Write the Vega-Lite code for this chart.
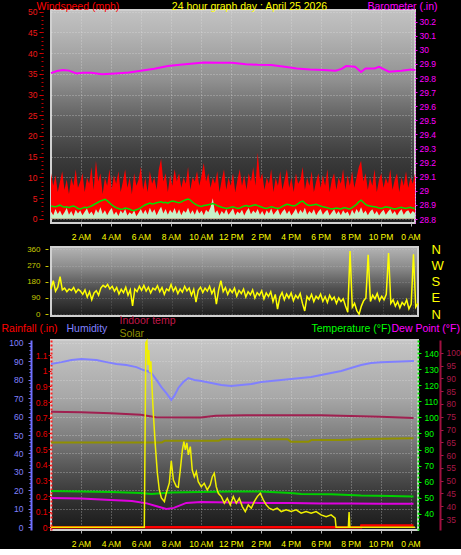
{
"$schema":"https://vega.github.io/schema/vega-lite/v6.json",
"background":"#000000",
"padding":{"left":0,"top":0,"right":0,"bottom":0},
"spacing":24,
"bounds":"flush",
"config":{
 "font":"Liberation Sans",
 "view":{"stroke":"#d0d0d0","strokeWidth":2},
 "axis":{"labelFont":"Liberation Sans","titleFont":"Liberation Sans","titleFontWeight":"normal","labelFontSize":8.5,"titleFontSize":10.5,"gridColor":"#e8e8e8","gridDash":[1,2],"gridOpacity":0.55,"domain":false,"tickSize":3,"labelFlush":false,"labelOverlap":false,"grid":false}
},
"datasets":{
"wind":[
{"h":0,"g":11,"a":3.1,"w":1.8},{"h":0.15,"g":8,"a":3.0,"w":0.9},{"h":0.3,"g":10.5,"a":2.9,"w":2.4},{"h":0.45,"g":6.5,"a":3.1,"w":1.2},{"h":0.6,"g":9,"a":3.3,"w":2.0},{"h":0.75,"g":11.5,"a":3.0,"w":0.8},{"h":0.9,"g":7,"a":2.8,"w":1.6},{"h":1.05,"g":9.5,"a":2.9,"w":2.6},{"h":1.2,"g":6,"a":2.7,"w":1.0},{"h":1.35,"g":10,"a":3.0,"w":1.9},
{"h":1.5,"g":8,"a":3.1,"w":0.7},{"h":1.65,"g":12,"a":2.9,"w":2.2},{"h":1.8,"g":7.5,"a":2.5,"w":1.3},{"h":1.95,"g":9,"a":2.4,"w":2.0},{"h":2.1,"g":11,"a":2.6,"w":0.9},{"h":2.25,"g":6.5,"a":2.8,"w":1.7},{"h":2.4,"g":10,"a":2.7,"w":2.5},{"h":2.55,"g":8.5,"a":2.9,"w":1.1},{"h":2.7,"g":12.5,"a":3.1,"w":1.8},{"h":2.85,"g":7,"a":3.4,"w":0.8},
{"h":3.0,"g":14,"a":3.7,"w":2.3},{"h":3.15,"g":9,"a":4.0,"w":1.4},{"h":3.3,"g":11,"a":4.3,"w":2.8},{"h":3.45,"g":6,"a":4.5,"w":1.2},{"h":3.6,"g":10,"a":4.7,"w":2.1},{"h":3.75,"g":8,"a":4.4,"w":0.9},{"h":3.9,"g":12,"a":3.9,"w":1.9},{"h":4.05,"g":7,"a":3.4,"w":2.6},{"h":4.2,"g":10.5,"a":3.0,"w":1.0},{"h":4.35,"g":8.5,"a":2.7,"w":1.8},
{"h":4.5,"g":11.5,"a":2.5,"w":0.7},{"h":4.65,"g":6.5,"a":2.3,"w":2.0},{"h":4.8,"g":9,"a":2.4,"w":1.3},{"h":4.95,"g":12,"a":2.6,"w":2.4},{"h":5.1,"g":7.5,"a":2.5,"w":0.8},{"h":5.25,"g":10,"a":2.3,"w":1.6},{"h":5.4,"g":6,"a":2.1,"w":1.1},{"h":5.55,"g":11,"a":2.0,"w":2.0},{"h":5.7,"g":8,"a":2.2,"w":0.6},{"h":5.85,"g":9.5,"a":2.4,"w":1.5},
{"h":6.0,"g":12.5,"a":2.7,"w":2.4},{"h":6.15,"g":7,"a":3.1,"w":1.2},{"h":6.3,"g":10,"a":3.4,"w":2.2},{"h":6.45,"g":6.5,"a":3.6,"w":1.0},{"h":6.6,"g":11.5,"a":3.8,"w":2.7},{"h":6.75,"g":8.5,"a":3.6,"w":1.5},{"h":6.9,"g":10,"a":3.7,"w":2.3},{"h":7.05,"g":7,"a":3.9,"w":0.9},{"h":7.2,"g":12,"a":4.0,"w":2.0},{"h":7.35,"g":14.5,"a":4.1,"w":2.9},
{"h":7.5,"g":9,"a":3.9,"w":1.3},{"h":7.65,"g":11,"a":4.0,"w":2.4},{"h":7.8,"g":6.5,"a":3.8,"w":1.0},{"h":7.95,"g":10.5,"a":4.1,"w":2.2},{"h":8.1,"g":8,"a":4.3,"w":1.4},{"h":8.25,"g":12,"a":4.2,"w":2.6},{"h":8.4,"g":9,"a":4.0,"w":1.1},{"h":8.55,"g":11,"a":3.9,"w":2.3},{"h":8.7,"g":7.5,"a":4.1,"w":0.9},{"h":8.85,"g":10,"a":4.4,"w":2.0},
{"h":9.0,"g":8.5,"a":4.6,"w":1.5},{"h":9.15,"g":12.5,"a":4.8,"w":2.7},{"h":9.3,"g":7,"a":4.5,"w":1.2},{"h":9.45,"g":10,"a":4.0,"w":2.1},{"h":9.6,"g":9,"a":3.6,"w":1.0},{"h":9.75,"g":11.5,"a":3.3,"w":2.4},{"h":9.9,"g":8,"a":3.1,"w":1.3},{"h":10.05,"g":10.5,"a":3.0,"w":2.0},{"h":10.2,"g":13.5,"a":3.2,"w":0.9},{"h":10.35,"g":9,"a":3.3,"w":2.2},
{"h":10.5,"g":11,"a":3.4,"w":1.6},{"h":10.65,"g":7.5,"a":3.5,"w":2.8},{"h":10.8,"g":10,"a":3.7,"w":5.0},{"h":10.95,"g":8.5,"a":3.5,"w":1.4},{"h":11.1,"g":11.5,"a":3.2,"w":2.1},{"h":11.25,"g":6.5,"a":3.0,"w":0.8},{"h":11.4,"g":9.5,"a":2.8,"w":1.9},{"h":11.55,"g":12,"a":2.7,"w":1.2},{"h":11.7,"g":7,"a":2.5,"w":2.3},{"h":11.85,"g":10,"a":2.6,"w":1.0},
{"h":12.0,"g":8,"a":2.8,"w":1.7},{"h":12.15,"g":11,"a":2.9,"w":2.5},{"h":12.3,"g":6.5,"a":2.7,"w":0.9},{"h":12.45,"g":9.5,"a":2.5,"w":1.8},{"h":12.6,"g":12,"a":2.6,"w":1.3},{"h":12.75,"g":8,"a":2.9,"w":2.2},{"h":12.9,"g":10.5,"a":3.1,"w":0.8},{"h":13.05,"g":7,"a":3.2,"w":1.9},{"h":13.2,"g":11,"a":3.0,"w":2.6},{"h":13.35,"g":9,"a":3.1,"w":1.1},
{"h":13.5,"g":12.5,"a":3.3,"w":2.0},{"h":13.65,"g":8,"a":3.4,"w":1.4},{"h":13.8,"g":16,"a":3.2,"w":2.4},{"h":13.95,"g":9.5,"a":3.0,"w":1.0},{"h":14.1,"g":11,"a":2.8,"w":1.9},{"h":14.25,"g":7,"a":2.6,"w":0.8},{"h":14.4,"g":10,"a":2.5,"w":2.1},{"h":14.55,"g":8.5,"a":2.7,"w":1.3},{"h":14.7,"g":12,"a":2.9,"w":2.5},{"h":14.85,"g":6.5,"a":2.8,"w":1.0},
{"h":15.0,"g":10,"a":2.6,"w":1.7},{"h":15.15,"g":8,"a":2.5,"w":2.3},{"h":15.3,"g":11.5,"a":2.7,"w":0.9},{"h":15.45,"g":7,"a":3.0,"w":1.8},{"h":15.6,"g":9.5,"a":3.3,"w":2.4},{"h":15.75,"g":12,"a":3.5,"w":1.2},{"h":15.9,"g":7.5,"a":3.4,"w":2.0},{"h":16.05,"g":10,"a":3.2,"w":0.8},{"h":16.2,"g":6.5,"a":3.1,"w":1.6},{"h":16.35,"g":11,"a":3.3,"w":2.5},
{"h":16.5,"g":8.5,"a":3.7,"w":1.1},{"h":16.65,"g":9.5,"a":4.1,"w":2.2},{"h":16.8,"g":12.5,"a":4.3,"w":1.4},{"h":16.95,"g":7,"a":3.8,"w":2.7},{"h":17.1,"g":10,"a":3.4,"w":1.0},{"h":17.25,"g":8,"a":3.2,"w":1.9},{"h":17.4,"g":11.5,"a":3.3,"w":1.3},{"h":17.55,"g":6.5,"a":3.4,"w":2.3},{"h":17.7,"g":9,"a":3.5,"w":0.9},{"h":17.85,"g":11,"a":3.3,"w":1.8},
{"h":18.0,"g":7.5,"a":3.1,"w":2.4},{"h":18.15,"g":10.5,"a":2.9,"w":1.0},{"h":18.3,"g":8,"a":2.8,"w":1.7},{"h":18.45,"g":12,"a":2.7,"w":2.2},{"h":18.6,"g":6.5,"a":2.5,"w":0.8},{"h":18.75,"g":9.5,"a":2.4,"w":1.6},{"h":18.9,"g":11,"a":2.5,"w":2.3},{"h":19.05,"g":7,"a":2.6,"w":1.1},{"h":19.2,"g":10,"a":2.5,"w":1.9},{"h":19.35,"g":8.5,"a":2.4,"w":0.9},
{"h":19.5,"g":12,"a":2.6,"w":2.1},{"h":19.65,"g":7,"a":2.7,"w":1.3},{"h":19.8,"g":10.5,"a":2.5,"w":1.8},{"h":19.95,"g":8,"a":2.4,"w":0.7},{"h":20.1,"g":11.5,"a":2.7,"w":2.2},{"h":20.25,"g":7.5,"a":3.1,"w":1.2},{"h":20.4,"g":10,"a":3.5,"w":2.4},{"h":20.55,"g":12.5,"a":4.1,"w":1.5},{"h":20.7,"g":14,"a":4.5,"w":2.8},{"h":20.85,"g":9,"a":4.0,"w":1.3},
{"h":21.0,"g":11,"a":3.5,"w":2.0},{"h":21.15,"g":7,"a":3.2,"w":0.9},{"h":21.3,"g":10,"a":3.1,"w":1.8},{"h":21.45,"g":8,"a":3.0,"w":2.3},{"h":21.6,"g":12,"a":2.9,"w":1.1},{"h":21.75,"g":6.5,"a":2.8,"w":1.9},{"h":21.9,"g":9.5,"a":2.6,"w":0.8},{"h":22.05,"g":11,"a":2.5,"w":1.6},{"h":22.2,"g":7.5,"a":2.7,"w":2.2},{"h":22.35,"g":10,"a":2.9,"w":1.0},
{"h":22.5,"g":8.5,"a":2.8,"w":1.8},{"h":22.65,"g":12,"a":2.7,"w":2.4},{"h":22.8,"g":7,"a":2.5,"w":1.2},{"h":22.95,"g":9.5,"a":2.4,"w":1.9},{"h":23.1,"g":11,"a":2.5,"w":0.8},{"h":23.25,"g":6.5,"a":2.7,"w":1.7},{"h":23.4,"g":10,"a":2.8,"w":2.3},{"h":23.55,"g":8,"a":2.6,"w":1.0},{"h":23.7,"g":11.5,"a":2.5,"w":1.8},{"h":23.85,"g":7.5,"a":2.7,"w":2.1},
{"h":24.0,"g":10,"a":2.8,"w":1.2},{"h":24.15,"g":8.5,"a":2.6,"w":1.9},{"h":24.3,"g":11,"a":2.5,"w":1.4}
],
"baro":[
{"h":0,"p":29.835},{"h":0.4,"p":29.85},{"h":0.8,"p":29.857},{"h":1.2,"p":29.853},{"h":1.7,"p":29.833},{"h":2.1,"p":29.838},{"h":2.7,"p":29.838},{"h":3.4,"p":29.828},{"h":4.3,"p":29.833},{"h":5.2,"p":29.84},{"h":6.0,"p":29.852},{"h":6.9,"p":29.866},{"h":7.8,"p":29.885},{"h":8.6,"p":29.894},{"h":9.5,"p":29.904},{"h":10.2,"p":29.911},{"h":11.2,"p":29.909},{"h":12.1,"p":29.909},{"h":13.0,"p":29.899},{"h":13.8,"p":29.894},{"h":14.7,"p":29.892},{"h":15.6,"p":29.88},{"h":16.4,"p":29.868},{"h":17.3,"p":29.861},{"h":18.2,"p":29.857},{"h":19.0,"p":29.852},{"h":19.4,"p":29.865},{"h":19.7,"p":29.885},{"h":20.3,"p":29.88},{"h":20.7,"p":29.843},{"h":21.0,"p":29.868},{"h":21.6,"p":29.868},{"h":21.9,"p":29.88},{"h":22.55,"p":29.845},{"h":23.4,"p":29.852},{"h":24.05,"p":29.861},{"h":24.3,"p":29.857}
],
"dir":[
{"h":0,"d":140},{"h":0.15,"d":186},{"h":0.3,"d":128},{"h":0.45,"d":150},{"h":0.6,"d":209},{"h":0.75,"d":135},{"h":0.9,"d":145},{"h":1.05,"d":125},{"h":1.2,"d":140},{"h":1.35,"d":132},{"h":1.5,"d":148},{"h":1.65,"d":120},{"h":1.8,"d":138},{"h":1.95,"d":128},{"h":2.1,"d":110},{"h":2.25,"d":135},{"h":2.4,"d":95},{"h":2.55,"d":125},{"h":2.7,"d":80},{"h":2.85,"d":118},
{"h":3.0,"d":130},{"h":3.15,"d":105},{"h":3.3,"d":145},{"h":3.45,"d":160},{"h":3.6,"d":150},{"h":3.75,"d":165},{"h":3.9,"d":140},{"h":4.05,"d":155},{"h":4.2,"d":128},{"h":4.35,"d":148},{"h":4.5,"d":112},{"h":4.65,"d":138},{"h":4.8,"d":120},{"h":4.95,"d":150},{"h":5.1,"d":105},{"h":5.25,"d":135},{"h":5.4,"d":46},{"h":5.55,"d":140},{"h":5.7,"d":125},{"h":5.85,"d":155},
{"h":6.0,"d":132},{"h":6.15,"d":160},{"h":6.3,"d":128},{"h":6.45,"d":150},{"h":6.6,"d":118},{"h":6.75,"d":145},{"h":6.9,"d":135},{"h":7.05,"d":158},{"h":7.2,"d":125},{"h":7.35,"d":148},{"h":7.5,"d":110},{"h":7.65,"d":140},{"h":7.8,"d":130},{"h":7.95,"d":165},{"h":8.1,"d":128},{"h":8.25,"d":150},{"h":8.4,"d":115},{"h":8.55,"d":140},{"h":8.7,"d":122},{"h":8.85,"d":155},
{"h":9.0,"d":130},{"h":9.15,"d":145},{"h":9.3,"d":105},{"h":9.45,"d":138},{"h":9.6,"d":67},{"h":9.75,"d":132},{"h":9.9,"d":150},{"h":10.05,"d":120},{"h":10.2,"d":145},{"h":10.35,"d":128},{"h":10.5,"d":155},{"h":10.65,"d":115},{"h":10.8,"d":140},{"h":10.95,"d":56},{"h":11.1,"d":135},{"h":11.25,"d":186},{"h":11.4,"d":125},{"h":11.55,"d":148},{"h":11.7,"d":110},{"h":11.85,"d":138},
{"h":12.0,"d":120},{"h":12.15,"d":145},{"h":12.3,"d":100},{"h":12.45,"d":132},{"h":12.6,"d":115},{"h":12.75,"d":140},{"h":12.9,"d":95},{"h":13.05,"d":125},{"h":13.2,"d":108},{"h":13.35,"d":135},{"h":13.5,"d":90},{"h":13.65,"d":120},{"h":13.8,"d":105},{"h":13.95,"d":130},{"h":14.1,"d":85},{"h":14.25,"d":118},{"h":14.4,"d":98},{"h":14.55,"d":125},{"h":14.7,"d":70},{"h":14.85,"d":110},
{"h":15.0,"d":28},{"h":15.15,"d":95},{"h":15.3,"d":120},{"h":15.45,"d":80},{"h":15.6,"d":112},{"h":15.75,"d":90},{"h":15.9,"d":118},{"h":16.05,"d":75},{"h":16.2,"d":105},{"h":16.35,"d":88},{"h":16.5,"d":115},{"h":16.65,"d":60},{"h":16.8,"d":18},{"h":16.95,"d":98},{"h":17.1,"d":80},{"h":17.25,"d":110},{"h":17.4,"d":70},{"h":17.55,"d":100},{"h":17.7,"d":85},{"h":17.85,"d":112},
{"h":18.0,"d":72},{"h":18.15,"d":98},{"h":18.3,"d":65},{"h":18.45,"d":105},{"h":18.6,"d":80},{"h":18.75,"d":95},{"h":18.9,"d":60},{"h":19.05,"d":90},{"h":19.2,"d":70},{"h":19.35,"d":85},{"h":19.5,"d":45},{"h":19.65,"d":11},{"h":19.8,"d":350},{"h":19.95,"d":39},{"h":20.1,"d":60},{"h":20.25,"d":20},{"h":20.4,"d":0},{"h":20.55,"d":45},{"h":20.7,"d":75},{"h":20.85,"d":90},
{"h":21.0,"d":330},{"h":21.15,"d":70},{"h":21.3,"d":105},{"h":21.45,"d":85},{"h":21.6,"d":115},{"h":21.75,"d":75},{"h":21.9,"d":100},{"h":22.05,"d":80},{"h":22.2,"d":110},{"h":22.35,"d":340},{"h":22.5,"d":60},{"h":22.65,"d":80},{"h":22.8,"d":45},{"h":22.95,"d":70},{"h":23.1,"d":35},{"h":23.25,"d":65},{"h":23.4,"d":50},{"h":23.55,"d":80},{"h":23.7,"d":30},{"h":23.85,"d":55},
{"h":24.0,"d":332},{"h":24.15,"d":40},{"h":24.3,"d":60}
],
"humidity":[
{"h":0,"v":88.5},{"h":0.7,"v":89.5},{"h":1.37,"v":90.6},{"h":2.03,"v":91.2},{"h":3.03,"v":90.6},{"h":3.7,"v":89.5},{"h":4.37,"v":88.5},{"h":5.03,"v":87.9},{"h":5.7,"v":86.8},{"h":6.17,"v":85.2},{"h":6.43,"v":84.7},{"h":6.7,"v":83.6},{"h":7.03,"v":80},{"h":7.37,"v":76},{"h":7.7,"v":72.7},{"h":8.03,"v":69},{"h":8.23,"v":71.2},{"h":8.5,"v":75.5},{"h":8.83,"v":78.7},{"h":9.17,"v":80.9},{"h":9.57,"v":79.8},{"h":10.03,"v":79.3},{"h":10.7,"v":78.2},{"h":11.37,"v":77.1},{"h":12.03,"v":76.5},{"h":12.7,"v":77.1},{"h":13.37,"v":77.6},{"h":14.03,"v":78.7},{"h":14.7,"v":79.3},{"h":15.37,"v":79.8},{"h":16.03,"v":80.3},{"h":16.7,"v":80.9},{"h":17.37,"v":81.4},{"h":18.03,"v":82.5},{"h":18.7,"v":83.6},{"h":19.37,"v":84.7},{"h":20.03,"v":86.3},{"h":20.7,"v":87.9},{"h":21.37,"v":89},{"h":22.03,"v":89.5},{"h":23.37,"v":89.8},{"h":24.23,"v":90.1}
],
"indoor":[
{"h":0,"v":76.9},{"h":2,"v":76.7},{"h":4,"v":76.4},{"h":6,"v":75.8},{"h":7,"v":74.8},{"h":10,"v":74.7},{"h":11,"v":75.4},{"h":13,"v":75.6},{"h":18,"v":75.6},{"h":20,"v":75.3},{"h":22,"v":75},{"h":24.2,"v":74.5}
],
"solar":[
{"h":0,"v":46},{"h":7.4,"v":46},{"h":7.6,"v":46.9},{"h":11.2,"v":46.9},{"h":11.4,"v":47.7},{"h":15.8,"v":47.7},{"h":16.0,"v":46.4},{"h":17.2,"v":46.4},{"h":17.4,"v":47.3},{"h":19.4,"v":47.3},{"h":21,"v":47.8},{"h":24.2,"v":48.2}
],
"temp":[
{"h":0,"v":54.2},{"h":2,"v":53.8},{"h":4,"v":53.5},{"h":6,"v":52.9},{"h":6.7,"v":52.3},{"h":8,"v":53.2},{"h":10,"v":53.5},{"h":12,"v":53.8},{"h":14,"v":53.8},{"h":16,"v":52.9},{"h":16.7,"v":52.3},{"h":18.7,"v":52.1},{"h":20.7,"v":51.3},{"h":22.7,"v":51},{"h":24.2,"v":50.7}
],
"dew":[
{"h":0,"v":49.8},{"h":2,"v":49.5},{"h":4,"v":48.5},{"h":5.4,"v":47.9},{"h":6.4,"v":46.4},{"h":7,"v":44.8},{"h":7.7,"v":42.9},{"h":8.2,"v":43.6},{"h":9.03,"v":46.7},{"h":10,"v":47.3},{"h":12,"v":47},{"h":14,"v":46.7},{"h":16,"v":46.7},{"h":18,"v":46.4},{"h":20,"v":46.4},{"h":22,"v":46.2},{"h":24.2,"v":46.2}
],
"rad":[
{"h":0,"v":0},{"h":6.23,"v":0},{"h":6.33,"v":100},{"h":6.4,"v":101},{"h":6.47,"v":88},{"h":6.53,"v":96},{"h":6.6,"v":84},{"h":6.67,"v":90},{"h":6.73,"v":78},{"h":6.83,"v":61.8},{"h":6.97,"v":43.7},{"h":7.1,"v":29.4},{"h":7.23,"v":20.2},{"h":7.37,"v":15.9},{"h":7.57,"v":13.9},{"h":7.7,"v":18.6},{"h":7.9,"v":24},{"h":8.03,"v":36},{"h":8.17,"v":25.6},{"h":8.37,"v":22},{"h":8.5,"v":21.7},{"h":8.63,"v":31},{"h":8.77,"v":41.9},{"h":8.87,"v":46.4},{"h":8.97,"v":41.9},{"h":9.07,"v":45.7},{"h":9.17,"v":39.2},{"h":9.3,"v":43.7},{"h":9.43,"v":31},{"h":9.57,"v":27.4},{"h":9.7,"v":30.1},{"h":9.83,"v":24.7},{"h":10.03,"v":22},{"h":10.23,"v":23.8},{"h":10.43,"v":20.2},{"h":10.63,"v":22.9},{"h":10.77,"v":27.4},{"h":10.9,"v":29.3},{"h":11.03,"v":22},{"h":11.17,"v":18.4},{"h":11.37,"v":16.6},{"h":11.57,"v":13},{"h":11.77,"v":15.7},{"h":11.97,"v":12.1},{"h":12.17,"v":16.6},{"h":12.37,"v":13},{"h":12.57,"v":15.7},{"h":12.77,"v":11.2},{"h":12.97,"v":8.5},{"h":13.17,"v":12.1},{"h":13.37,"v":10.3},{"h":13.57,"v":13.9},{"h":13.77,"v":16.6},{"h":13.97,"v":18.4},{"h":14.17,"v":14.8},{"h":14.37,"v":12.1},{"h":14.57,"v":10.3},{"h":14.83,"v":9.4},{"h":15.1,"v":10.3},{"h":15.37,"v":8.5},{"h":15.7,"v":9.4},{"h":16.03,"v":8.5},{"h":16.37,"v":9.4},{"h":16.7,"v":7.6},{"h":17.03,"v":8.5},{"h":17.37,"v":7.6},{"h":17.7,"v":8.5},{"h":18.03,"v":6.7},{"h":18.37,"v":5.7},{"h":18.7,"v":6.7},{"h":18.97,"v":4.9},{"h":19.03,"v":0},{"h":19.85,"v":0},{"h":19.9,"v":8.3},{"h":19.95,"v":0},{"h":24.3,"v":0}
],
"rain":[
{"h":0,"v":0},{"h":20.7,"v":0},{"h":20.72,"v":0.012},{"h":24.2,"v":0.012}
]
},
"vconcat":[
{
 "width":364,"height":213,
 "view":{"fill":{"gradient":"linear","x1":0,"y1":0,"x2":0,"y2":1,"stops":[{"offset":0,"color":"#c2c2c2"},{"offset":0.1,"color":"#b6b6b6"},{"offset":0.33,"color":"#909090"},{"offset":0.52,"color":"#5e5e5e"},{"offset":0.7,"color":"#3a3a3a"},{"offset":0.88,"color":"#262626"},{"offset":1,"color":"#1c1c1c"}]},"stroke":"#d0d0d0","strokeWidth":2},
 "encoding":{"x":{"field":"h","type":"quantitative","scale":{"domain":[0,24.3],"nice":false,"zero":false},
   "axis":{"values":[2,4,6,8,10,12,14,16,18,20,22,24],"labelExpr":"datum.value==24?'0 AM':datum.value<12?datum.value+' AM':datum.value==12?'12 PM':(datum.value-12)+' PM'","labelColor":"#ffff00","labelFontSize":8.5,"labelPadding":6,"tickColor":"#b0b0b0","tickSize":3,"grid":true,"title":null}}},
 "layer":[
  {"data":{"name":"wind"},"mark":{"type":"area","color":"#ff0000"},
   "encoding":{"y":{"field":"g","type":"quantitative","stack":null,"scale":{"domain":[-1,50.4],"nice":false,"zero":false},
     "axis":{"orient":"left","offset":8,"values":[0,5,10,15,20,25,30,35,40,45,50],"labelColor":"#f01818","labelPadding":2,"tickColor":"#e00000","tickSize":4,
       "title":"Windspeed (mph)","titleColor":"#ff0000","titleAngle":0,"titleAlign":"left","titleBaseline":"alphabetic","titleX":-7,"titleY":-1}}}},
  {"data":{"name":"wind"},"mark":{"type":"area","color":"#c8f0c8"},
   "encoding":{"y":{"field":"w","type":"quantitative","stack":null,"scale":{"domain":[-1,50.4],"nice":false,"zero":false},"axis":null}}},
  {"data":{"name":"wind"},"mark":{"type":"line","color":"#00e000","strokeWidth":1.5},
   "encoding":{"y":{"field":"a","type":"quantitative","scale":{"domain":[-1,50.4],"nice":false,"zero":false},"axis":null}}},
  {"data":{"name":"baro"},"mark":{"type":"line","color":"#ff00ff","strokeWidth":2},
   "encoding":{"y":{"field":"p","type":"quantitative","scale":{"domain":[28.772,30.283],"nice":false,"zero":false},
     "axis":{"orient":"right","values":[28.8,28.9,29,29.1,29.2,29.3,29.4,29.5,29.6,29.7,29.8,29.9,30,30.1,30.2],"format":".1~f","labelColor":"#ff00ff","labelPadding":2,"tickColor":"#ff00ff","tickSize":2,
       "domain":true,"domainColor":"#ff00ff","domainDash":[1,2],"domainWidth":1,
       "title":"Barometer (.in)","titleColor":"#ff00ff","titleAngle":0,"titleAlign":"right","titleBaseline":"alphabetic","titleX":22,"titleY":-1}}}},
  {"data":{"name":"wind"},"mark":{"type":"line","opacity":0},
   "encoding":{"y":{"field":"g","type":"quantitative","scale":{"domain":[-1,50.4],"nice":false,"zero":false},
     "axis":{"orient":"left","offset":0,"values":[0,5,10,15,20,25,30,35,40,45,50],"labels":false,"ticks":false,"grid":true,
       "title":"24 hour graph day : April 25 2026","titleColor":"#ffff00","titleAngle":0,"titleAlign":"center","titleBaseline":"alphabetic","titleX":198,"titleY":-1}}}},
  {"data":{"name":"wind"},"mark":{"type":"line","opacity":0},
   "encoding":{"y":{"field":"g","type":"quantitative","scale":{"domain":[-1,50.4],"nice":false,"zero":false},
     "axis":{"orient":"left","offset":8,"values":[0,1,2,3,4,5,6,7,8,9,10,11,12,13,14,15,16,17,18,19,20,21,22,23,24,25,26,27,28,29,30,31,32,33,34,35,36,37,38,39,40,41,42,43,44,45,46,47,48,49,50],"labels":false,"ticks":true,"tickSize":2,"tickColor":"#c00000","grid":false,"title":null}}}}
 ],
 "resolve":{"scale":{"y":"independent"}}
},
{
 "width":367,"height":69,
 "view":{"fill":{"gradient":"linear","x1":0,"y1":0,"x2":0,"y2":1,"stops":[{"offset":0,"color":"#b4b4b4"},{"offset":0.3,"color":"#8a8a8a"},{"offset":0.6,"color":"#505050"},{"offset":1,"color":"#1c1c1c"}]},"stroke":"#d0d0d0","strokeWidth":2},
 "encoding":{"x":{"field":"h","type":"quantitative","scale":{"domain":[0,24.3],"nice":false,"zero":false},
   "axis":{"values":[2,4,6,8,10,12,14,16,18,20,22,24],"labels":false,"ticks":false,"grid":true,"gridOpacity":0.25,"title":null}}},
 "layer":[
  {"data":{"name":"dir"},"mark":{"type":"line","color":"#ffff00","strokeWidth":1.5},
   "encoding":{"y":{"field":"d","type":"quantitative","scale":{"domain":[-10,373],"nice":false,"zero":false},
     "axis":{"orient":"left","offset":3,"values":[0,90,180,270,360],"labelColor":"#c8c800","labelFontSize":8,"labelPadding":5,"tickColor":"#c8c800","tickSize":3,"title":null}}}},
  {"data":{"name":"dir"},"mark":{"type":"line","opacity":0},
   "encoding":{"y":{"field":"d","type":"quantitative","scale":{"domain":[-10,373],"nice":false,"zero":false},
     "axis":{"orient":"right","values":[0,90,180,270,360],"labelExpr":"datum.value==90?'E':datum.value==180?'S':datum.value==270?'W':'N'","labelColor":"#ffff00","labelFontSize":13,"labelPadding":13,"ticks":false,"grid":true,"gridOpacity":0.3,"title":null}}}}
 ],
 "resolve":{"scale":{"y":"independent"}}
},
{
 "width":367,"height":190,
 "view":{"fill":{"gradient":"linear","x1":0,"y1":0,"x2":0,"y2":1,"stops":[{"offset":0,"color":"#c6c6c6"},{"offset":0.3,"color":"#a8a8a8"},{"offset":0.5,"color":"#808080"},{"offset":0.7,"color":"#505050"},{"offset":0.85,"color":"#303030"},{"offset":1,"color":"#1a1a1a"}]},"stroke":"#d0d0d0","strokeWidth":2},
 "encoding":{"x":{"field":"h","type":"quantitative","scale":{"domain":[0,24.5],"nice":false,"zero":false},
   "axis":{"values":[2,4,6,8,10,12,14,16,18,20,22,24],"labelExpr":"datum.value==24?'0 AM':datum.value<12?datum.value+' AM':datum.value==12?'12 PM':(datum.value-12)+' PM'","labelColor":"#ffff00","labelFontSize":8.5,"labelPadding":6,"tickColor":"#b0b0b0","tickSize":3,"grid":true,"title":null}}},
 "layer":[
  {"data":{"name":"rain"},"mark":{"type":"line","color":"#ff0000","strokeWidth":2.5},
   "encoding":{"y":{"field":"v","type":"quantitative","scale":{"domain":[-0.017,1.196],"nice":false,"zero":false},
     "axis":{"orient":"left","offset":0,"values":[0,0.1,0.2,0.3,0.4,0.5,0.6,0.7,0.8,0.9,1,1.1,1.2],"format":".1~f","labelColor":"#e80000","labelPadding":1,"tickColor":"#e00000","tickSize":3,
       "domain":true,"domainColor":"#ff2020","domainDash":[2,2],"domainWidth":2,
       "title":"Rainfall (.in)","titleColor":"#ff0000","titleAngle":0,"titleAlign":"left","titleBaseline":"alphabetic","titleX":-50,"titleY":-9}}}},
  {"data":{"name":"humidity"},"mark":{"type":"line","color":"#8080ff","strokeWidth":2},
   "encoding":{"y":{"field":"v","type":"quantitative","scale":{"domain":[-1.5,101.5],"nice":false,"zero":false},
     "axis":{"orient":"left","offset":20,"values":[0,10,20,30,40,50,60,70,80,90,100],"labelColor":"#8080ff","labelPadding":5,"tickColor":"#8080ff","tickSize":3,
       "domain":true,"domainColor":"#7070ff","domainWidth":2,
       "title":"Humidity","titleColor":"#8080ff","titleAngle":0,"titleAlign":"left","titleBaseline":"alphabetic","titleX":35,"titleY":-9}}}},
  {"data":{"name":"humidity"},"mark":{"type":"line","opacity":0},
   "encoding":{"y":{"field":"v","type":"quantitative","scale":{"domain":[-1.5,101.5],"nice":false,"zero":false},
     "axis":{"orient":"left","offset":20,"values":[0,2,4,6,8,10,12,14,16,18,20,22,24,26,28,30,32,34,36,38,40,42,44,46,48,50,52,54,56,58,60,62,64,66,68,70,72,74,76,78,80,82,84,86,88,90,92,94,96,98,100],"labels":false,"ticks":true,"tickSize":2,"tickColor":"#7070ff","grid":false,"title":null}}}},
  {"data":{"name":"indoor"},"mark":{"type":"line","color":"#a02050","strokeWidth":2},
   "encoding":{"y":{"field":"v","type":"quantitative","scale":{"domain":[30.7,105],"nice":false,"zero":false},
     "axis":{"orient":"right","offset":22,"values":[35,40,45,50,55,60,65,70,75,80,85,90,95,100],"labelColor":"#a81848","labelPadding":3,"tickColor":"#a81848","tickSize":3,
       "domain":true,"domainColor":"#a01040","domainWidth":2,
       "title":"Indoor temp","titleColor":"#c01848","titleAngle":0,"titleAlign":"left","titleBaseline":"alphabetic","titleX":-321,"titleY":-16.5}}}},
  {"data":{"name":"solar"},"mark":{"type":"line","color":"#909000","strokeWidth":2},
   "encoding":{"y":{"field":"v","type":"quantitative","scale":{"domain":[-1.5,101.5],"nice":false,"zero":false},
     "axis":{"orient":"left","offset":0,"values":[0,10,20,30,40,50,60,70,80,90,100],"labels":false,"ticks":false,"grid":true,
       "title":"Solar","titleColor":"#909000","titleAngle":0,"titleAlign":"left","titleBaseline":"alphabetic","titleX":68,"titleY":-4}}}},
  {"data":{"name":"temp"},"mark":{"type":"line","color":"#00d000","strokeWidth":2},
   "encoding":{"y":{"field":"v","type":"quantitative","scale":{"domain":[29.8,148.3],"nice":false,"zero":false},
     "axis":{"orient":"right","offset":0,"values":[40,50,60,70,80,90,100,110,120,130,140],"labelColor":"#00ff00","labelPadding":3,"tickColor":"#00ff00","tickSize":3,
       "domain":true,"domainColor":"#00e000","domainDash":[2,2],"domainWidth":2,
       "title":"Temperature (°F)","titleColor":"#00ff00","titleAngle":0,"titleAlign":"left","titleBaseline":"alphabetic","titleX":-107,"titleY":-9}}}},
  {"data":{"name":"dew"},"mark":{"type":"line","color":"#e000e0","strokeWidth":2},
   "encoding":{"y":{"field":"v","type":"quantitative","scale":{"domain":[29.8,148.3],"nice":false,"zero":false},
     "axis":{"orient":"right","offset":0,"labels":false,"ticks":false,
       "title":"Dew Point (°F)","titleColor":"#ff00ff","titleAngle":0,"titleAlign":"left","titleBaseline":"alphabetic","titleX":-27,"titleY":-9}}}},
  {"data":{"name":"rad"},"mark":{"type":"line","color":"#f0f000","strokeWidth":1.5},
   "encoding":{"y":{"field":"v","type":"quantitative","scale":{"domain":[-1.5,101.5],"nice":false,"zero":false},"axis":null}}}
 ],
 "resolve":{"scale":{"y":"independent"}}
}
]
}
